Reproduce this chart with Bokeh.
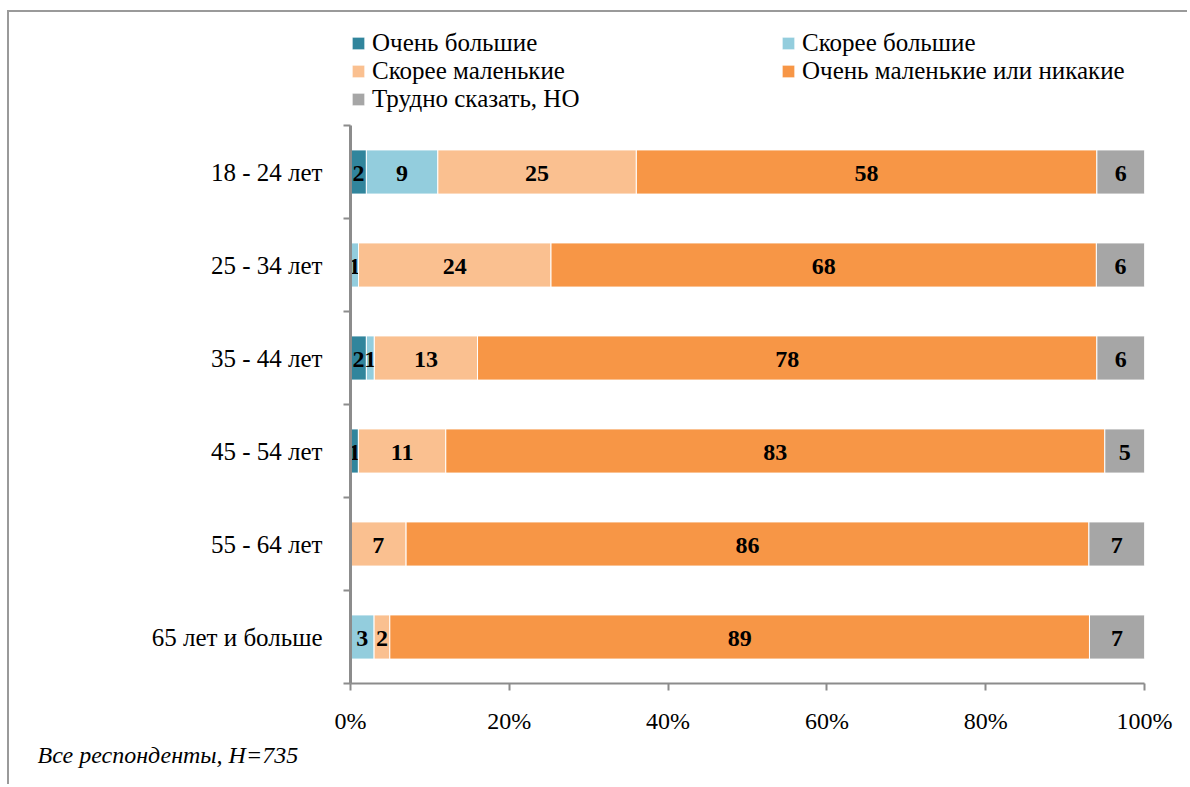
from bokeh.plotting import figure
from bokeh.models import (ColumnDataSource, FixedTicker, Legend, LegendItem, Title,
                          Range1d, CustomJSTickFormatter)
from bokeh.core.properties import value
from bokeh.embed import file_html
from bokeh.resources import INLINE

categories = ["18 - 24 лет", "25 - 34 лет", "35 - 44 лет", "45 - 54 лет", "55 - 64 лет", "65 лет и больше"]
series_names = ["Очень большие", "Скорее большие", "Скорее маленькие", "Очень маленькие или никакие", "Трудно сказать, НО"]
very_big = [2, 0, 2, 1, 0, 0]
rather_big = [9, 1, 1, 0, 0, 3]
rather_small = [25, 24, 13, 11, 7, 2]
very_small = [58, 68, 78, 83, 86, 89]
hard_to_say = [6, 6, 6, 5, 7, 7]
colors = ["#31859C", "#93CDDD", "#FAC090", "#F79646", "#A6A6A6"]
x_ticks = [0, 20, 40, 60, 80, 100]
footnote = "Все респонденты, Н=735"

series = [very_big, rather_big, rather_small, very_small, hard_to_say]
n = len(categories)
ypos = [n - i - 0.5 for i in range(n)]
totals = [sum(s[i] for s in series) for i in range(n)]

FONT = "'Liberation Serif', 'Times New Roman', serif"

# frame spans from y=25px (room for the legend) to y=683px; categories occupy 125..683
extra = 100.0 / 93.0
p = figure(width=1180, height=774, output_backend="svg", toolbar_location=None,
           x_range=Range1d(0, 100), y_range=Range1d(0, n + extra),
           min_border_left=341, min_border_right=45, min_border_top=13, min_border_bottom=103)
p.styles = {"margin-left": "7px", "margin-top": "10px",
            "border-left": "2px solid #9a9a9a", "border-top": "2px solid #9a9a9a"}
p.outline_line_color = None
p.grid.visible = False
p.background_fill_color = "white"
p.border_fill_color = "white"

renderers = []
left = [0.0] * n
for k, s in enumerate(series):
    pct = [s[i] * 100.0 / totals[i] for i in range(n)]
    right = [left[i] + pct[i] for i in range(n)]
    src = ColumnDataSource(dict(y=ypos, left=left, right=right,
                                mid=[(left[i] + right[i]) / 2 for i in range(n)],
                                val=s, lab=[str(v) if v > 0 else "" for v in s]))
    r = p.hbar(y="y", left="left", right="right", height=0.475, source=src,
               fill_color=colors[k], line_color="white", line_width=1)
    renderers.append(r)
    p.text(x="mid", y="y", text="lab", source=src, text_align="center", text_baseline="middle",
           text_font=value(FONT), text_font_size="24px", text_font_style="bold", text_color="black",
           y_offset=1)
    left = right

# x axis
p.xaxis.ticker = FixedTicker(ticks=x_ticks)
p.xaxis.formatter = CustomJSTickFormatter(code="return tick.toFixed(0) + '%';")
p.xaxis.axis_line_color = "#8c8c8c"
p.xaxis.axis_line_width = 2
p.xaxis.major_tick_line_color = "#8c8c8c"
p.xaxis.major_tick_line_width = 2
p.xaxis.major_tick_out = 7
p.xaxis.major_tick_in = 0
p.xaxis.minor_tick_line_color = None
p.xaxis.major_label_standoff = 17
p.xaxis.major_label_text_font = FONT
p.xaxis.major_label_text_font_size = "24px"
p.xaxis.major_label_text_color = "black"

# y axis
p.yaxis.bounds = (0, n)
p.yaxis.ticker = FixedTicker(ticks=ypos, minor_ticks=list(range(n + 1)))
p.yaxis.major_label_overrides = {ypos[i]: categories[i] for i in range(n)}
p.yaxis.axis_line_color = "#8c8c8c"
p.yaxis.axis_line_width = 3
p.yaxis.major_tick_line_color = None
p.yaxis.minor_tick_line_color = "#8c8c8c"
p.yaxis.minor_tick_line_width = 2
p.yaxis.minor_tick_out = 7
p.yaxis.minor_tick_in = 0
p.yaxis.major_label_standoff = 21
p.yaxis.major_label_text_font = FONT
p.yaxis.major_label_text_font_size = "25px"
p.yaxis.major_label_text_color = "black"

# legends (two columns), inside the frame above the bars
def make_legend(idx, loc):
    lg = Legend(items=[LegendItem(label=series_names[i], renderers=[renderers[i]]) for i in idx],
                location=loc, orientation="vertical", padding=0, margin=0, spacing=0,
                glyph_width=16, glyph_height=16, label_standoff=6, label_height=28,
                label_text_font=FONT, label_text_font_size="25px", label_text_color="black",
                label_text_baseline="middle",
                border_line_color=None, background_fill_alpha=0)
    p.add_layout(lg, "center")

make_legend([0, 2, 4], (0, 570))
make_legend([1, 3], (430, 598))

p.add_layout(Title(text=footnote, align="left", offset=-313, standoff=6,
                   text_font=FONT, text_font_size="24px", text_font_style="italic",
                   text_color="black"), "below")

open("out.html", "w").write(file_html(p, INLINE))
